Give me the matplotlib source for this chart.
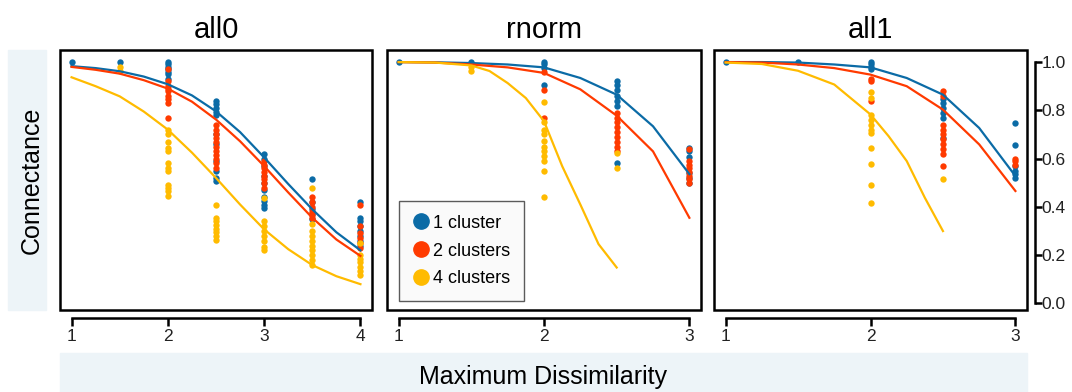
import matplotlib
matplotlib.use("Agg")
import matplotlib.pyplot as plt
from matplotlib.patches import Rectangle
from matplotlib.lines import Line2D

plt.rcParams['font.family'] = ['Liberation Sans', 'DejaVu Sans']

# colours for the three cluster settings
BLUE = '#0B6BA6'
RED = '#FF3A00'
YELLOW = '#FFBB00'

series_labels = ['1 cluster', '2 clusters', '4 clusters']
panel_titles = ['all0', 'rnorm', 'all1']
y_ticks = [0.0, 0.2, 0.4, 0.6, 0.8, 1.0]

# ---- all0 -------------------------------------------------------------
all0_xticks = [1, 2, 3, 4]
all0_curve_x = [1, 1.25, 1.5, 1.75, 2, 2.25, 2.5, 2.75, 3, 3.25, 3.5, 3.75, 4]
all0_curve_1 = [0.983, 0.975, 0.962, 0.94, 0.908, 0.862, 0.796, 0.71, 0.605, 0.495, 0.39, 0.295, 0.22]
all0_curve_2 = [0.98, 0.968, 0.952, 0.925, 0.89, 0.836, 0.762, 0.672, 0.569, 0.46, 0.355, 0.265, 0.197]
all0_curve_4 = [0.937, 0.90, 0.858, 0.795, 0.72, 0.625, 0.52, 0.41, 0.307, 0.225, 0.159, 0.113, 0.08]

all0_pts_1 = [(1, [1.0]), (1.5, [1.0]),
              (2, [1.0, 0.99, 0.98, 0.97, 0.96, 0.95, 0.93]),
              (2.5, [0.84, 0.825, 0.81, 0.795, 0.78, 0.70, 0.66, 0.59, 0.55, 0.52, 0.507]),
              (3, [0.62, 0.60, 0.57, 0.53, 0.50, 0.47, 0.44, 0.425, 0.41, 0.395]),
              (3.5, [0.515, 0.42, 0.39, 0.37, 0.35]),
              (4, [0.42, 0.355, 0.34, 0.32, 0.30, 0.28, 0.26, 0.24])]
all0_pts_2 = [(2, [0.97, 0.92, 0.90, 0.89, 0.88, 0.86, 0.845, 0.83, 0.77]),
              (2.5, [0.74, 0.72, 0.70, 0.685, 0.67, 0.65, 0.63, 0.615, 0.60, 0.58, 0.56]),
              (3, [0.59, 0.575, 0.56, 0.545, 0.53, 0.515, 0.50, 0.48]),
              (3.5, [0.44, 0.42, 0.40, 0.38, 0.365, 0.355]),
              (4, [0.41, 0.32, 0.29, 0.27, 0.25, 0.23])]
all0_pts_4 = [(1.5, [0.98, 0.965]),
              (2, [0.72, 0.70, 0.67, 0.645, 0.63, 0.58, 0.56, 0.55, 0.49, 0.48, 0.465, 0.445]),
              (2.5, [0.41, 0.355, 0.34, 0.325, 0.31, 0.295, 0.28, 0.265]),
              (3, [0.437, 0.34, 0.32, 0.30, 0.28, 0.26, 0.235, 0.22]),
              (3.5, [0.48, 0.33, 0.30, 0.28, 0.26, 0.24, 0.22, 0.20, 0.18, 0.16]),
              (4, [0.25, 0.20, 0.185, 0.17, 0.15, 0.135, 0.12])]

# ---- rnorm ------------------------------------------------------------
rnorm_xticks = [1, 2, 3]
rnorm_curve_x = [1, 1.25, 1.5, 1.75, 2, 2.25, 2.5, 2.75, 3]
rnorm_curve_1 = [1.0, 0.999, 0.996, 0.99, 0.978, 0.934, 0.865, 0.734, 0.536]
rnorm_curve_2 = [1.0, 0.998, 0.99, 0.978, 0.955, 0.887, 0.778, 0.63, 0.355]
rnorm_curve4_x = [1, 1.25, 1.5, 1.625, 1.75, 1.875, 2, 2.125, 2.25, 2.375, 2.5]
rnorm_curve_4 = [1.0, 0.998, 0.986, 0.963, 0.913, 0.851, 0.755, 0.569, 0.41, 0.246, 0.149]

rnorm_pts_1 = [(1, [1.0]), (1.5, [1.0]),
               (2, [1.0, 0.99, 0.975, 0.905]),
               (2.5, [0.92, 0.905, 0.885, 0.86, 0.84, 0.82, 0.583]),
               (3, [0.645, 0.63, 0.605, 0.54, 0.52, 0.50])]
rnorm_pts_2 = [(2, [0.96, 0.883, 0.769]),
               (2.5, [0.79, 0.77, 0.75, 0.73, 0.71, 0.69, 0.67, 0.65, 0.63]),
               (3, [0.64, 0.59, 0.575, 0.56, 0.545, 0.53, 0.515, 0.50])]
rnorm_pts_4 = [(1.5, [0.98, 0.962]),
               (2, [0.835, 0.75, 0.72, 0.70, 0.675, 0.65, 0.63, 0.61, 0.59, 0.548, 0.442]),
               (2.5, [0.624, 0.562])]

# ---- all1 -------------------------------------------------------------
all1_xticks = [1, 2, 3]
all1_curve_x = [1, 1.25, 1.5, 1.75, 2, 2.25, 2.5, 2.75, 3]
all1_curve_1 = [1.0, 1.0, 0.998, 0.99, 0.978, 0.934, 0.865, 0.727, 0.528]
all1_curve_2 = [1.0, 0.998, 0.99, 0.975, 0.948, 0.90, 0.803, 0.659, 0.466]
all1_curve4_x = [1, 1.25, 1.5, 1.75, 2, 2.125, 2.25, 2.375, 2.5]
all1_curve_4 = [0.998, 0.992, 0.964, 0.907, 0.783, 0.693, 0.59, 0.438, 0.30]

all1_pts_1 = [(1, [1.0]), (1.5, [1.0]),
              (2, [1.0, 0.99, 0.98, 0.97]),
              (2.5, [0.845, 0.83, 0.81, 0.79, 0.77, 0.686]),
              (3, [0.747, 0.655, 0.57, 0.55, 0.535, 0.52])]
all1_pts_2 = [(2, [0.928, 0.92, 0.838]),
              (2.5, [0.882, 0.86, 0.74, 0.72, 0.70, 0.68, 0.66, 0.64, 0.62, 0.569]),
              (3, [0.60, 0.59, 0.575])]
all1_pts_4 = [(2, [0.876, 0.85, 0.78, 0.76, 0.74, 0.72, 0.705, 0.645, 0.578, 0.49, 0.417]),
              (2.5, [0.515])]


def expand(groups):
    xs, ys = [], []
    for x, vals in groups:
        xs += [x] * len(vals)
        ys += vals
    return xs, ys


def draw_panel(ax, title, xticks, curves, points):
    colors = [BLUE, RED, YELLOW]
    for pts, c in zip(points, colors):
        xs, ys = expand(pts)
        ax.scatter(xs, ys, s=21, color=c, linewidths=0, zorder=2)
    for (cx, cy), c in zip(curves, colors):
        ax.plot(cx, cy, color=c, lw=1.6, zorder=3)

    span = xticks[-1] - xticks[0]
    ax.set_xlim(xticks[0] - 0.04 * span, xticks[-1] + 0.04 * span)
    ax.set_ylim(-0.027, 1.05)
    ax.set_title(title, fontsize=21, pad=9)

    # box around the panel, separate x axis line below it
    ax.add_patch(Rectangle((0, 0), 1, 1, transform=ax.transAxes, fill=False,
                           lw=1.8, edgecolor='black', clip_on=False, zorder=5))
    for s in ['top', 'left', 'right']:
        ax.spines[s].set_visible(False)
    ax.spines['bottom'].set_position(('outward', 6))
    ax.spines['bottom'].set_bounds(xticks[0], xticks[-1])
    ax.spines['bottom'].set_linewidth(1.8)
    ax.set_xticks(xticks)
    ax.tick_params(axis='x', direction='out', length=5.5, width=1.8,
                   labelsize=12.5, pad=2, labelcolor='#222222')
    ax.set_yticks([])


fig = plt.figure(figsize=(10.72, 3.92), dpi=100)
W, H = 1072, 392


def add_axes_px(x0, x1, y0, y1):
    return fig.add_axes([x0 / W, 1 - y1 / H, (x1 - x0) / W, (y1 - y0) / H])


ax1 = add_axes_px(60, 372, 50, 310)
ax2 = add_axes_px(387, 701, 50, 310)
ax3 = add_axes_px(714, 1027, 50, 310)

draw_panel(ax1, panel_titles[0], all0_xticks,
           [(all0_curve_x, all0_curve_1), (all0_curve_x, all0_curve_2), (all0_curve_x, all0_curve_4)],
           [all0_pts_1, all0_pts_2, all0_pts_4])
draw_panel(ax2, panel_titles[1], rnorm_xticks,
           [(rnorm_curve_x, rnorm_curve_1), (rnorm_curve_x, rnorm_curve_2), (rnorm_curve4_x, rnorm_curve_4)],
           [rnorm_pts_1, rnorm_pts_2, rnorm_pts_4])
draw_panel(ax3, panel_titles[2], all1_xticks,
           [(all1_curve_x, all1_curve_1), (all1_curve_x, all1_curve_2), (all1_curve4_x, all1_curve_4)],
           [all1_pts_1, all1_pts_2, all1_pts_4])

# y axis on the right of the last panel
ax3.spines['right'].set_visible(True)
ax3.spines['right'].set_position(('outward', 5.5))
ax3.spines['right'].set_bounds(0, 1)
ax3.spines['right'].set_linewidth(1.8)
ax3.yaxis.tick_right()
ax3.set_yticks(y_ticks)
ax3.set_yticklabels([f'{v:.1f}' for v in y_ticks])
ax3.tick_params(axis='y', direction='out', length=5, width=1.8,
                labelsize=12.5, pad=0, labelcolor='#222222')

# legend in the middle panel
handles = [Line2D([], [], marker='o', ls='', color=c, markersize=11)
           for c in [BLUE, RED, YELLOW]]
leg = ax2.legend(handles, series_labels, loc='lower left', bbox_to_anchor=(0.038, 0.035),
                 borderaxespad=0, fontsize=13, frameon=True, fancybox=False,
                 handletextpad=0.25, handlelength=0.9, borderpad=0.75, labelspacing=0.6)
leg.get_frame().set_facecolor('#F9F9F9')
leg.get_frame().set_edgecolor('#333333')
leg.get_frame().set_linewidth(1.0)
leg.set_zorder(6)

# shaded label strips
fig.add_artist(Rectangle((8 / W, 1 - 310 / H), 38 / W, 260 / H,
                         transform=fig.transFigure, color='#EDF4F8', zorder=0))
fig.add_artist(Rectangle((60 / W, 0), (1027 - 60) / W, (392 - 353) / H,
                         transform=fig.transFigure, color='#EDF4F8', zorder=0))
fig.text(32 / W, 1 - 180 / H, 'Connectance', rotation=90, fontsize=18,
         ha='center', va='center')
fig.text(543 / W, 1 - 377 / H, 'Maximum Dissimilarity', fontsize=18,
         ha='center', va='center')

fig.savefig('out.png', dpi=100)
